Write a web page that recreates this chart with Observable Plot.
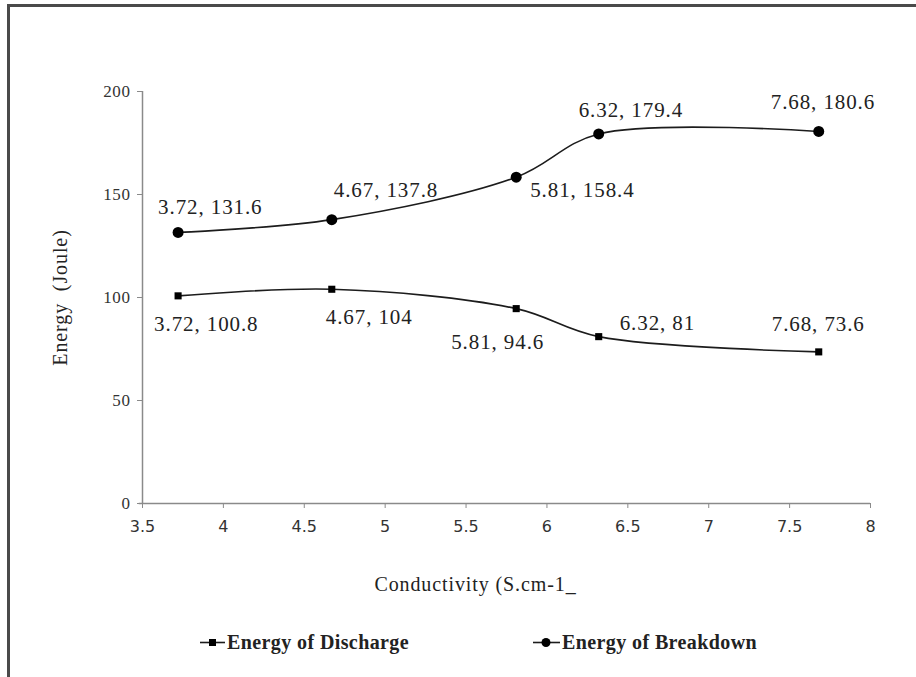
<!DOCTYPE html>
<html>
<head>
<meta charset="utf-8">
<script src="https://cdn.jsdelivr.net/npm/d3@7"></script>
<script src="https://cdn.jsdelivr.net/npm/@observablehq/plot@0.6"></script>
<style>
  html, body { margin: 0; padding: 0; background: #fff; }
  #wrap { position: relative; width: 916px; height: 677px; overflow: hidden; background: #fff; }
  #frame { position: absolute; left: 7px; top: 4px; width: 940px; height: 700px;
           border-left: 3px solid #4a4a4a; border-top: 3px solid #4a4a4a; box-sizing: border-box; }
  #chart { position: absolute; left: 0; top: 0; }
  #chart g[aria-label="text"] text { letter-spacing: 0.9px; }
  #chart g[aria-label="y-axis tick label"], #chart g[aria-label="y-axis tick label"] text {
    font-size: 17px !important; font-family: "Liberation Serif", "Times New Roman", serif !important; letter-spacing: 0.6px; }
  #chart g[aria-label="x-axis tick label"], #chart g[aria-label="x-axis tick label"] text {
    font-size: 16px !important; font-family: "DejaVu Sans", sans-serif !important; }
  #legend { position: absolute; left: 0; top: 628px; width: 916px; height: 30px;
            font-family: "Liberation Serif", "Times New Roman", serif; font-size: 20px; color: #222;
            font-weight: bold; letter-spacing: 0.4px; }
  .item { position: absolute; top: 0; display: flex; align-items: center; height: 28px; }
  .item svg { margin-right: 2px; }
</style>
</head>
<body>
<div id="wrap">
  <div id="frame"></div>
  <div id="chart"></div>
  <div id="legend"></div>
</div>
<script>
// ---- data ----
const conductivity = [3.72, 4.67, 5.81, 6.32, 7.68];
const energyDischarge = [100.8, 104, 94.6, 81, 73.6];
const energyBreakdown = [131.6, 137.8, 158.4, 179.4, 180.6];
const seriesNames = ["Energy of Discharge", "Energy of Breakdown"];
const xTicks = [3.5, 4, 4.5, 5, 5.5, 6, 6.5, 7, 7.5, 8];
const yTicks = [0, 50, 100, 150, 200];
const xLabel = "Conductivity (S.cm-1_";
const yLabel = "Energy  (Joule)";

const discharge = conductivity.map((c, i) => ({x: c, y: energyDischarge[i], label: `${c}, ${energyDischarge[i]}`, i}));
const breakdown = conductivity.map((c, i) => ({x: c, y: energyBreakdown[i], label: `${c}, ${energyBreakdown[i]}`, i}));

// label offsets (pixels) per point index
const offB = [[-20, -25], [2, -29], [14, 13], [-20, -24], [-48, -29]];
const offD = [[-24, 28], [-6, 28], [-65, 34], [21, -13], [-47, -28]];

const serif = "'Liberation Serif', 'Times New Roman', serif";
const lineColor = "#1c1c1c";
const axisColor = "#8a8a8a";

const labelMarks = (data, offs) => offs.map(([dx, dy], k) =>
  Plot.text(data.filter(d => d.i === k), {
    x: "x", y: "y", text: "label", dx, dy, textAnchor: "start",
    fontSize: 21, fontFamily: serif, fill: "#222"
  })
);

const chart = Plot.plot({
  width: 916,
  height: 615,
  marginLeft: 142,
  marginRight: 46,
  marginTop: 91,
  marginBottom: 112,
  style: {background: "transparent", overflow: "visible"},
  x: {domain: [3.5, 8]},
  y: {domain: [0, 200]},
  marks: [
    Plot.axisY({ticks: yTicks, tickSize: 5, tickPadding: 7, label: null, stroke: axisColor,
                fontSize: 17, fontFamily: serif, fill: "#333"}),
    Plot.axisX({ticks: xTicks, tickSize: 5, tickPadding: 12, label: null, stroke: axisColor,
                fontSize: 16, fontFamily: "'DejaVu Sans', sans-serif", fill: "#333", tickFormat: d => String(d)}),
    Plot.ruleX([3.5], {stroke: axisColor, strokeWidth: 1.5}),
    Plot.ruleY([0], {stroke: axisColor, strokeWidth: 1.5, x1: 3.48, x2: 8}),
    Plot.line(breakdown, {x: "x", y: "y", curve: "catmull-rom", stroke: lineColor, strokeWidth: 1.6}),
    Plot.line(discharge, {x: "x", y: "y", curve: "catmull-rom", stroke: lineColor, strokeWidth: 1.6}),
    Plot.dot(breakdown, {x: "x", y: "y", r: 5.5, fill: "#000", stroke: "none"}),
    Plot.dot(discharge, {x: "x", y: "y", r: 4, symbol: "square", fill: "#000", stroke: "none"}),
    ...labelMarks(breakdown, offB),
    ...labelMarks(discharge, offD),
    Plot.text([yLabel], {frameAnchor: "left", textAnchor: "middle", dx: -82, rotate: -90,
                         fontSize: 20, fontFamily: serif, fill: "#222"}),
    Plot.text([xLabel], {frameAnchor: "bottom", textAnchor: "middle", dy: 87, dx: -31,
                         fontSize: 20, fontFamily: serif, fill: "#222"})
  ]
});
document.getElementById("chart").appendChild(chart);

// legend
const legend = document.getElementById("legend");
const legendX = [200, 533];
seriesNames.forEach((name, k) => {
  const item = document.createElement("div");
  item.className = "item";
  item.style.left = legendX[k] + "px";
  const marker = k === 0
    ? `<rect x="9" y="5" width="7" height="7" fill="#000"/>`
    : `<circle cx="13" cy="8.5" r="4.5" fill="#000"/>`;
  const w = k === 0 ? 25 : 27;
  item.innerHTML = `<svg width="${w}" height="17"><line x1="0" x2="${w}" y1="8.5" y2="8.5" stroke="#1c1c1c" stroke-width="1.6"/>${marker}</svg><span>${name}</span>`;
  legend.appendChild(item);
});
</script>
</body>
</html>
